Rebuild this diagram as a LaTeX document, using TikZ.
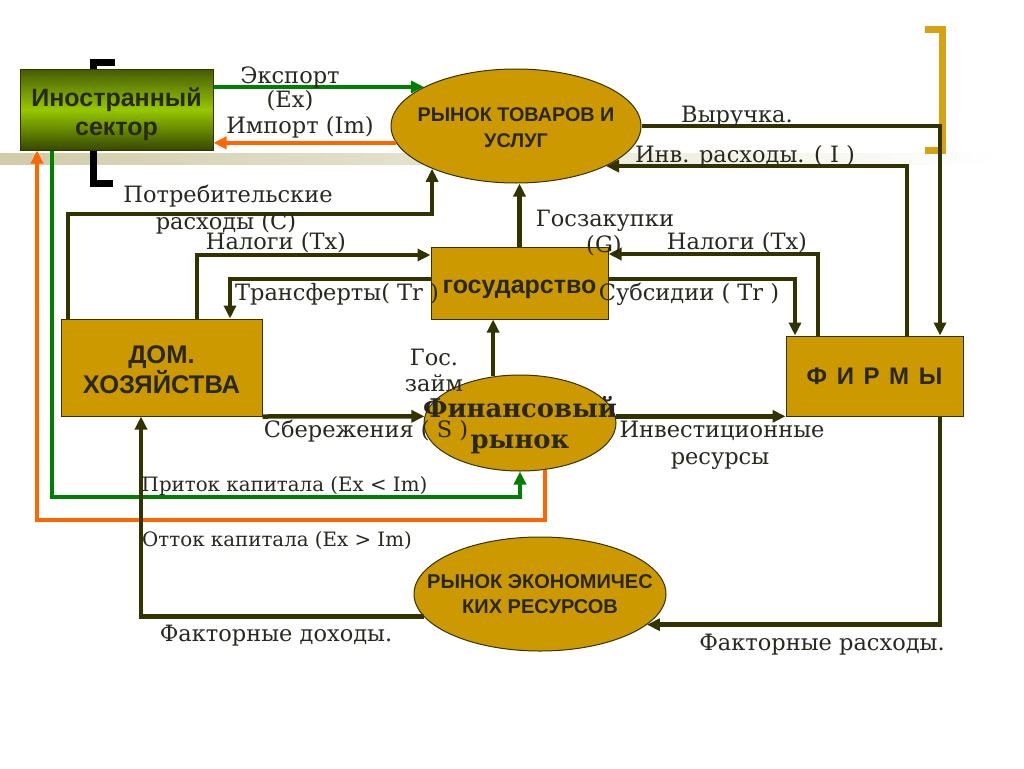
\documentclass[tikz,border=0pt]{standalone}
\usepackage{fontspec}
\setmainfont{DejaVu Serif}
\newfontfamily\sansf{Liberation Sans}
\usetikzlibrary{arrows.meta,shapes.geometric}
\definecolor{gold}{RGB}{204,153,0}
\definecolor{dk}{RGB}{51,51,0}
\definecolor{grn}{RGB}{0,128,0}
\definecolor{org}{RGB}{255,102,0}
\definecolor{bgold}{RGB}{214,162,20}
\definecolor{band}{RGB}{208,204,168}
\definecolor{txt}{RGB}{40,40,30}
\definecolor{fgtop}{RGB}{70,90,5}
\definecolor{fgmid}{RGB}{150,200,0}
\definecolor{fgbot}{RGB}{55,72,0}
\newcommand{\lowr}[2]{\raisebox{-#1}[\height][\depth]{#2}}
\tikzset{
  arr/.style={draw=dk, line width=4.5pt, -{Triangle[length=13pt,width=12pt]}},
  garr/.style={arr, draw=grn},
  oarr/.style={arr, draw=org},
  box/.style={draw=dk, line width=1pt, fill=gold, inner sep=0pt, align=center, text=txt},
  ell/.style={ellipse, draw=dk, line width=1pt, fill=gold, inner sep=0pt, align=center, text=txt},
  lab/.style={anchor=base, inner sep=0pt, text=txt, font=\fontsize{22.5}{26}\selectfont},
  slab/.style={anchor=base, inner sep=0pt, text=txt, font=\fontsize{19.8}{23}\selectfont},
}
\begin{document}
\begin{tikzpicture}[x=1pt,y=-1pt]
\useasboundingbox (0,0) rectangle (1024,768);
\fill[white] (0,0) rectangle (1024,768);
% background band
\fill[left color=band, right color=white] (0,153) rectangle (1000,164);
% brackets
\draw[line width=7pt, black] (115,62) -- (93.5,62) -- (93.5,183) -- (113,183);
\draw[line width=7pt, bgold] (925,29.5) -- (942,29.5) -- (942,150) -- (925,150);

% nodes
\node[box, minimum width=193pt, minimum height=81pt, top color=fgtop, bottom color=fgbot, middle color=fgmid,
      font=\sansf\bfseries\fontsize{25}{29}\selectfont] (foreign) at (116.5,109.5)
      {\lowr{4.5pt}{Иностранный}\\\lowr{4.5pt}{сектор}};
\node[ell, minimum width=250pt, minimum height=114pt, font=\sansf\bfseries\fontsize{19.8}{26}\selectfont]
      (goods) at (516,126) {\makebox[0pt]{\lowr{2pt}{РЫНОК ТОВАРОВ И}}\\\makebox[0pt]{\lowr{2pt}{УСЛУГ}}};
\node[box, minimum width=177pt, minimum height=72pt, font=\sansf\bfseries\fontsize{25}{27}\selectfont]
      (gov) at (519.5,283) {\lowr{6pt}{государство}};
\node[box, minimum width=201pt, minimum height=97pt, font=\sansf\bfseries\fontsize{25.5}{30}\selectfont]
      (hh) at (161.5,367.5) {\lowr{2pt}{ДОМ.}\\\lowr{2pt}{ХОЗЯЙСТВА}};
\node[box, minimum width=177pt, minimum height=80pt, font=\sansf\bfseries\fontsize{24}{26}\selectfont]
      (firms) at (874.5,376) {Ф\hspace{0.4em}И\hspace{0.4em}Р\hspace{0.4em}М\hspace{0.4em}Ы};
\node[ell, minimum width=192pt, minimum height=96pt, font=\bfseries\fontsize{25.8}{31}\selectfont]
      (fin) at (520,423) {\makebox[0pt]{\lowr{2pt}{Финансовый}}\\\makebox[0pt]{\lowr{2pt}{рынок}}};
\node[ell, minimum width=252pt, minimum height=114pt, font=\sansf\bfseries\fontsize{20}{25}\selectfont]
      (res) at (540,594) {\makebox[0pt]{РЫНОК ЭКОНОМИЧЕС}\\\makebox[0pt]{КИХ РЕСУРСОВ}};

% connectors
\draw[garr] (foreign.east |- goods.157) -- (goods.157);
\draw[oarr] (goods.188) -- (foreign.east |- goods.188);
\draw[garr] (foreign.south -| 52,0) |- (fin.south |- 0,497) -- (fin.south);
\draw[oarr] (fin.298) -- (fin.298 |- 0,520) -| (foreign.south -| 37,0);
\draw[arr] (hh.north -| 68,0) |- (goods.207 |- 0,214) -- (goods.207);
\draw[arr] (hh.north -| 197,0) |- (gov.west |- 0,255);
\draw[arr] (gov.west |- 0,279) -| (hh.north -| 230,0);
\draw[arr] (gov.north) -- (gov.north |- goods.south);
\draw[arr] (firms.north -| 818,0) |- (gov.east |- 0,254);
\draw[arr] (gov.east |- 0,279) -| (firms.north -| 795,0);
\draw[arr] (goods.east) -| (firms.north -| 940,0);
\draw[arr] (firms.north -| 907,0) |- (goods.336);
\draw[arr] (fin.120) -- (fin.120 |- gov.south);
\draw[arr] (hh.south east) -- (fin.176);
\draw[arr] (fin.4) -- (firms.west |- fin.4);
\draw[arr] (firms.south -| 940,0) |- (res.344);
\draw[arr] (res.191) -| (hh.south -| 141,0);

% labels
\node[lab] (l1) at (290,83) {Экспорт};
\node[lab] (l2) at (290,107) {(Ex)};
\node[lab] (l3) at (300,133) {Импорт (Im)};
\node[lab] (l4) at (737,122) {Выручка.};
\node[lab] (l5) at (745,162) {Инв. расходы. ( I )};
\node[lab] (l6) at (228,202) {Потребительские};
\node[lab] (l7) at (226,229) {расходы (C)};
\node[lab] (l8) at (276,249) {Налоги (Tx)};
\node[lab] (l9) at (605,226) {Госзакупки};
\node[lab] (l10) at (604,252) {(G)};
\node[lab] (l11) at (737,249) {Налоги (Tx)};
\node[lab] (l12) at (337,300) {Трансферты( Tr )};
\node[lab] (l13) at (689,300) {Субсидии ( Tr )};
\node[lab] (l14) at (434,365) {Гос.};
\node[lab] (l15) at (434,391) {займ};
\node[lab] (l16) at (366,437) {Сбережения ( S )};
\node[lab] (l17) at (722,437) {Инвестиционные};
\node[lab] (l18) at (720,464) {ресурсы};
\node[slab] (l19) at (284.5,491) {Приток капитала (Ex < Im)};
\node[slab] (l20) at (277,546) {Отток капитала (Ex > Im)};
\node[lab] (l21) at (276,641) {Факторные доходы.};
\node[lab] (l22) at (822,650) {Факторные расходы.};
\end{tikzpicture}
\end{document}
